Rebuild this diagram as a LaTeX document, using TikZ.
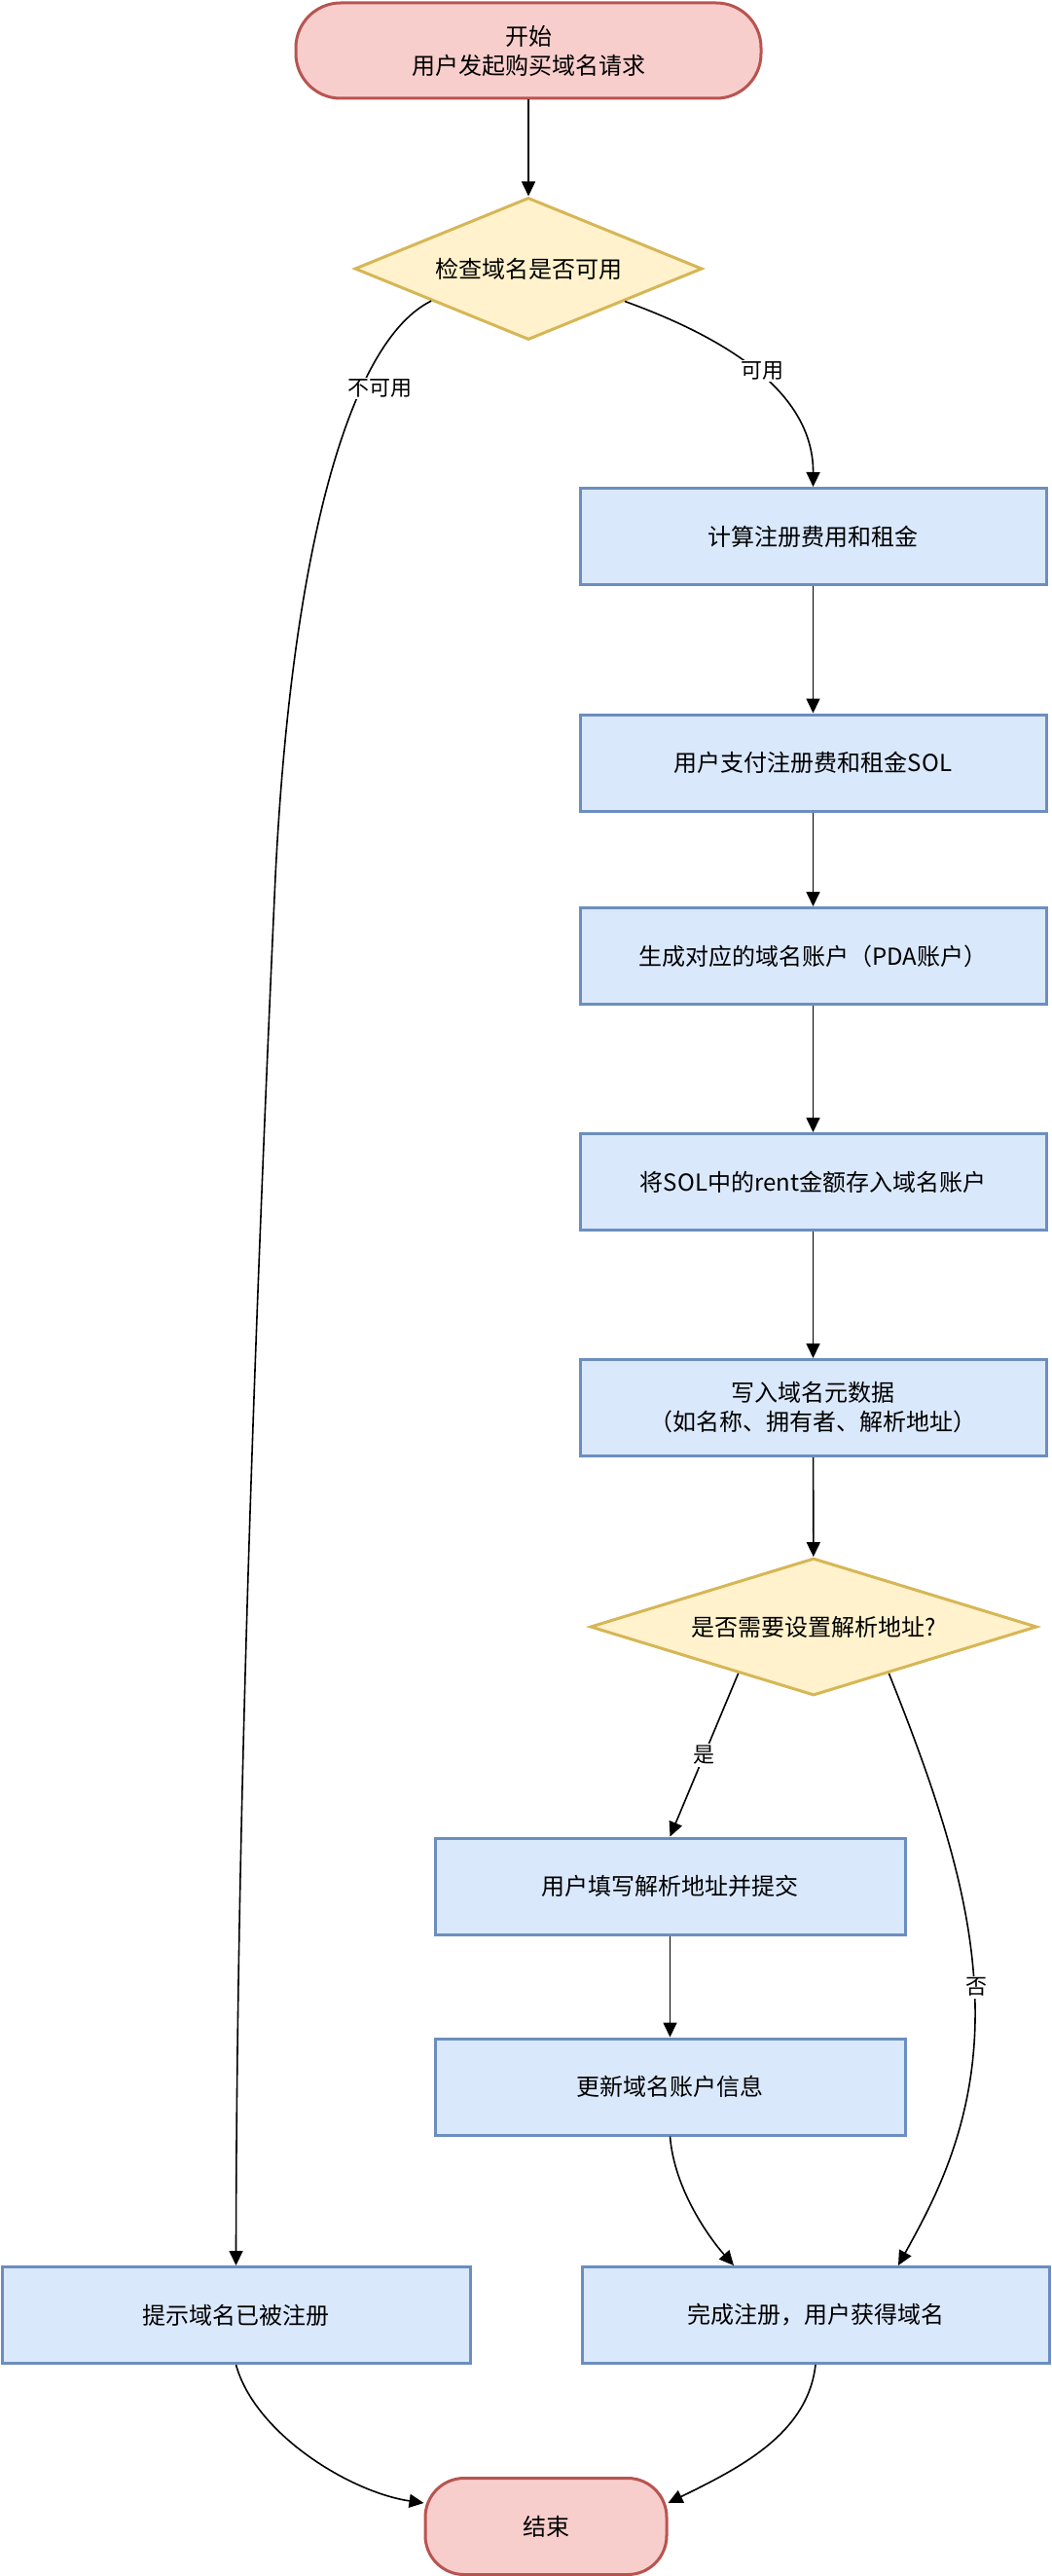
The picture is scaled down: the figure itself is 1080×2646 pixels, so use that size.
\documentclass[tikz,border=0pt]{standalone}
\usepackage{fontspec}
\setmainfont{Noto Sans CJK SC}
\usetikzlibrary{shapes.geometric,arrows.meta,calc}
\definecolor{redfill}{HTML}{F8CECC}
\definecolor{redline}{HTML}{B85450}
\definecolor{yelfill}{HTML}{FFF2CC}
\definecolor{yelline}{HTML}{D6B656}
\definecolor{bluefill}{HTML}{DAE8FC}
\definecolor{blueline}{HTML}{6C8EBF}
\begin{document}
\begin{tikzpicture}[x=1pt,y=-1pt,
  txt/.style={font=\fontsize{24}{30}\selectfont, align=center, inner sep=0pt},
  box/.style={txt, draw=blueline, fill=bluefill, line width=3pt, minimum width=479pt, minimum height=99pt},
  term/.style={txt, draw=redline, fill=redfill, line width=3pt, minimum height=98pt},
  dec/.style={txt, diamond, draw=yelline, fill=yelfill, line width=3pt, aspect=3},
  arr/.style={line width=1.6pt, -{Triangle[length=15pt,width=14pt]}},
  lbl/.style={font=\fontsize{22}{26}\selectfont, fill=white, inner sep=2pt}]
\useasboundingbox (0,0) rectangle (1080,2646);

\node[term, minimum width=478pt, rounded corners=46pt] (start) at (543,52) {开始\\用户发起购买域名请求};
\node[dec, minimum width=357pt, minimum height=146pt] (d1) at (543,276) {检查域名是否可用};
\node[box] (b1) at (835.5,551) {计算注册费用和租金};
\node[box] (b2) at (835.5,783.5) {用户支付注册费和租金SOL};
\node[box] (b3) at (835.5,982) {生成对应的域名账户（PDA账户）};
\node[box] (b4) at (835.5,1214) {将SOL中的rent金额存入域名账户};
\node[box] (b5) at (835.5,1446) {写入域名元数据\\（如名称、拥有者、解析地址）};
\node[dec, minimum width=459pt, minimum height=141pt] (d2) at (836,1671) {是否需要设置解析地址?};
\node[box, minimum width=483pt] (b6) at (688.5,1937.5) {用户填写解析地址并提交};
\node[box, minimum width=483pt] (b7) at (688.5,2143.5) {更新域名账户信息};
\node[box, minimum width=481pt] (b8) at (242.5,2378) {提示域名已被注册};
\node[box, minimum width=480pt] (b9) at (838,2378) {完成注册，用户获得域名};
\node[term, minimum width=248pt, minimum height=99pt, rounded corners=40pt] (end) at (561,2595) {结束};

\draw[arr] (start) -- (d1);
\draw[arr] ($(d1.east)!0.45!(d1.south)$) .. controls (740,345) and (836,400) .. (b1.north);
\node[lbl] (l1) at (783,381) {可用};
\draw[arr] ($(d1.west)!0.445!(d1.south)$) .. controls (360,350) and (300,560) .. (283,900)
  .. controls (260,1400) and (243,1900) .. (b8.north);
\node[lbl] (l2) at (390,399) {不可用};
\draw[arr] (b1) -- (b2);
\draw[arr] (b2) -- (b3);
\draw[arr] (b3) -- (b4);
\draw[arr] (b4) -- (b5);
\draw[arr] (b5) -- (d2);
\draw[arr] ($(d2.west)!0.665!(d2.south)$) -- (b6.north);
\node[lbl] (l3) at (723,1803) {是};
\draw[arr] ($(d2.east)!0.665!(d2.south)$) .. controls (970,1860) and (1000,1960) .. (1002,2060)
  .. controls (1004,2180) and (960,2260) .. ($(b9.north)+(85,0)$);
\node[lbl] (l4) at (1003,2041) {否};
\draw[arr] (b6) -- (b7);
\draw[arr] (b7.south) .. controls (693,2250) and (730,2300) .. ($(b9.north)+(-84,0)$);
\draw[arr] (b8.south) .. controls (262,2500) and (360,2560) .. ($(end.west)+(0,-24)$);
\draw[arr] (b9.south) .. controls (830,2500) and (760,2535) .. ($(end.east)+(0,-24)$);
\end{tikzpicture}
\end{document}
